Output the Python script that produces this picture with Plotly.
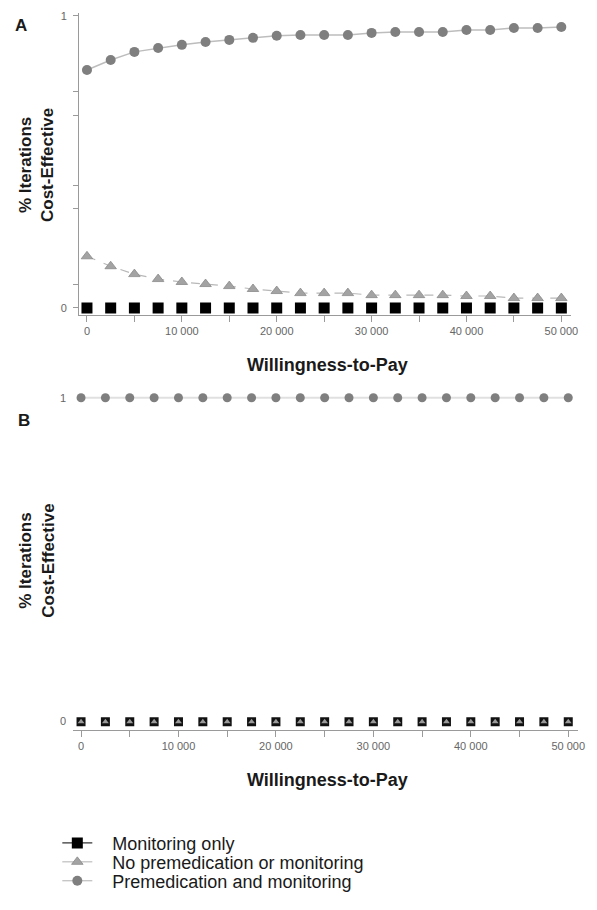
import plotly.graph_objects as go

W, H = 597, 910

wtp = [0, 2500, 5000, 7500, 10000, 12500, 15000, 17500, 20000, 22500, 25000,
       27500, 30000, 32500, 35000, 37500, 40000, 42500, 45000, 47500, 50000]

# Panel A
a_monitoring = [0.0] * 21
a_none = [0.177, 0.143, 0.116, 0.099, 0.089, 0.082, 0.075, 0.065, 0.058, 0.051, 0.051,
          0.051, 0.044, 0.044, 0.044, 0.044, 0.041, 0.041, 0.034, 0.034, 0.034]
a_premed = [0.815, 0.849, 0.877, 0.890, 0.901, 0.911, 0.918, 0.925, 0.932, 0.935, 0.935,
            0.935, 0.942, 0.945, 0.945, 0.945, 0.952, 0.952, 0.959, 0.959, 0.962]

# Panel B
b_monitoring = [0.0] * 21
b_none = [0.0] * 21
b_premed = [1.0] * 21

x_tickvals = [0, 5000, 10000, 15000, 20000, 25000, 30000, 35000, 40000, 45000, 50000]
x_ticktext = ["0", "", "10 000", "", "20 000", "", "30 000", "", "40 000", "", "50 000"]
a_y_tickvals = [0, 0.08, 0.34, 0.42, 0.66, 0.74, 1]
a_y_ticktext = ["0", "", "", "", "", "", "1"]

names = ["Monitoring only", "No premedication or monitoring", "Premedication and monitoring"]

FONT = "Liberation Sans, Arial, sans-serif"
C_SQ = "#000000"
C_TRI = "#a3a3a3"
C_TRI_EDGE = "#8a8a8a"
C_CIR = "#7f7f7f"

def px_x(p):
    return p / W

def px_y(p):
    return 1 - p / H

fig = go.Figure()

# ---- Panel A ----
fig.add_trace(go.Scatter(x=wtp, y=a_premed, mode="lines+markers", xaxis="x", yaxis="y",
                         line=dict(color="#bdbdbd", width=1.5),
                         marker=dict(symbol="circle", size=10, color=C_CIR),
                         showlegend=False))
fig.add_trace(go.Scatter(x=wtp, y=a_none, mode="lines+markers", xaxis="x", yaxis="y",
                         line=dict(color="#b8b8b8", width=1.2, dash="dash"),
                         marker=dict(symbol="triangle-up", size=10, color=C_TRI,
                                     line=dict(color=C_TRI_EDGE, width=0.8)),
                         showlegend=False))
fig.add_trace(go.Scatter(x=wtp, y=a_monitoring, mode="markers", xaxis="x", yaxis="y",
                         marker=dict(symbol="square", size=11, color=C_SQ),
                         showlegend=False))

# ---- Panel B ----
fig.add_trace(go.Scatter(x=wtp, y=b_premed, mode="lines+markers", xaxis="x2", yaxis="y2",
                         line=dict(color="#e0e0e0", width=2),
                         marker=dict(symbol="circle", size=9, color=C_CIR),
                         showlegend=False))
fig.add_trace(go.Scatter(x=wtp, y=b_monitoring, mode="markers", xaxis="x2", yaxis="y2",
                         marker=dict(symbol="square", size=9, color="#111111"),
                         showlegend=False))
fig.add_trace(go.Scatter(x=wtp, y=b_none, mode="markers", xaxis="x2", yaxis="y2",
                         marker=dict(symbol="triangle-up", size=6, color="#9a9a9a"),
                         showlegend=False))

# ---- Legend entries (one legend per row) ----
leg_styles = [
    dict(line=dict(color="#000000", width=1),
         marker=dict(symbol="square", size=11, color=C_SQ)),
    dict(line=dict(color="#b0b0b0", width=1),
         marker=dict(symbol="triangle-up", size=10, color=C_TRI,
                     line=dict(color=C_TRI_EDGE, width=0.8))),
    dict(line=dict(color="#b0b0b0", width=1),
         marker=dict(symbol="circle", size=10, color=C_CIR)),
]
leg_ids = ["legend", "legend2", "legend3"]
leg_rows = [843, 862, 881]
PAD = "\u00a0\u00a0\u00a0"
for nm, st, lid in zip(names, leg_styles, leg_ids):
    fig.add_trace(go.Scatter(x=[None], y=[None], mode="lines+markers", name=PAD + nm,
                             legend=lid, **st))

axis_common = dict(showgrid=False, zeroline=False, showline=True, linecolor="#9a9a9a",
                   linewidth=1.2, ticks="outside", tickcolor="#9a9a9a",
                   tickfont=dict(family=FONT, size=11, color="#666666"))

# A geometry: x 0->88px, 50000->568px ; y 0->306px, 1->13px
ax_l, ax_r = 80, 578
a_xr = [(ax_l - 88) / 480 * 50000, (ax_r - 88) / 480 * 50000]
a_top, a_bot = 10, 313
a_yr = [(306 - a_bot) / 293, (306 - a_top) / 293]

# B geometry: x 0->82px, 50000->575px ; y 0->721px, 1->396px
bx_l, bx_r = 74, 585
b_xr = [(bx_l - 82) / 493 * 50000, (bx_r - 82) / 493 * 50000]
b_top, b_bot = 386, 729
b_yr = [(721 - b_bot) / 325, (721 - b_top) / 325]

legend_common = dict(xanchor="left", yanchor="middle", itemwidth=30,
                     font=dict(family=FONT, size=18, color="#1a1a1a"),
                     bgcolor="rgba(0,0,0,0)", borderwidth=0)

layout_legends = {}
for lid, row in zip(leg_ids, leg_rows):
    layout_legends[lid] = dict(x=px_x(58), y=px_y(row), **legend_common)

fig.update_layout(
    width=W, height=H,
    margin=dict(l=0, r=0, t=0, b=0),
    paper_bgcolor="white", plot_bgcolor="white",
    font=dict(family=FONT, color="#222222"),
    xaxis=dict(domain=[px_x(ax_l), px_x(ax_r)], range=a_xr, anchor="y", ticklen=6,
               tickvals=x_tickvals, ticktext=x_ticktext, **axis_common),
    yaxis=dict(domain=[px_y(a_bot), px_y(a_top)], range=a_yr, anchor="x", ticklen=5,
               tickvals=a_y_tickvals, ticktext=a_y_ticktext, ticklabelstandoff=4,
               **axis_common),
    xaxis2=dict(domain=[px_x(bx_l), px_x(bx_r)], range=b_xr, anchor="y2", ticklen=6,
                tickvals=x_tickvals, ticktext=x_ticktext, **axis_common),
    yaxis2=dict(domain=[px_y(b_bot), px_y(b_top)], range=b_yr, anchor="x2",
                tickvals=[0, 1], ticktext=["0", "1"], showgrid=False, zeroline=False,
                showline=False, ticks="", ticklabelstandoff=6,
                tickfont=dict(family=FONT, size=11, color="#666666")),
    showlegend=True,
    **layout_legends,
)

ann = []
def add_text(text, cx, cy, size, angle=0):
    ann.append(dict(text=text, x=px_x(cx), y=px_y(cy), xref="paper", yref="paper",
                    xanchor="center", yanchor="middle", showarrow=False, textangle=angle,
                    font=dict(family=FONT, size=size, color="#1a1a1a")))

add_text("<b>A</b>", 21, 23, 17)
add_text("<b>B</b>", 24, 419, 17)
for (cx, cy) in [(331, 363), (331, 780)]:
    add_text("<b>Willingness-to-Pay</b>", cx, cy, 18)
for (cx, cy) in [(37, 163), (37, 560)]:
    add_text("<b>% Iterations<br>Cost-Effective</b>", cx, cy, 17, angle=-90)
fig.update_layout(annotations=ann)

fig.write_html("out.html",
               config={"displayModeBar": False},
               post_script="document.body.style.margin='0px';document.body.style.overflow='hidden';")
